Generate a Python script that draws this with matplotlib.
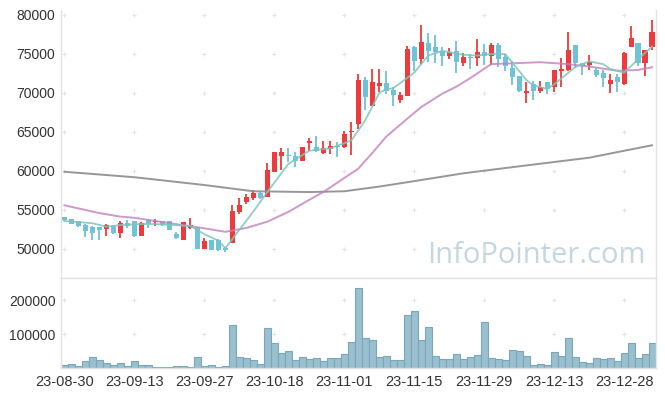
import numpy as np
import matplotlib.pyplot as plt

dates = ['23-08-30', '23-08-31', '23-09-01', '23-09-04', '23-09-05', '23-09-06', '23-09-07', '23-09-08', '23-09-11', '23-09-12',
         '23-09-13', '23-09-14', '23-09-15', '23-09-18', '23-09-19', '23-09-20', '23-09-21', '23-09-22', '23-09-25', '23-09-26',
         '23-09-27', '23-10-04', '23-10-05', '23-10-06', '23-10-10', '23-10-11', '23-10-12', '23-10-13', '23-10-16', '23-10-17',
         '23-10-18', '23-10-19', '23-10-20', '23-10-23', '23-10-24', '23-10-25', '23-10-26', '23-10-27', '23-10-30', '23-10-31',
         '23-11-01', '23-11-02', '23-11-03', '23-11-06', '23-11-07', '23-11-08', '23-11-09', '23-11-10', '23-11-13', '23-11-14',
         '23-11-15', '23-11-16', '23-11-17', '23-11-20', '23-11-21', '23-11-22', '23-11-23', '23-11-24', '23-11-27', '23-11-28',
         '23-11-29', '23-11-30', '23-12-01', '23-12-04', '23-12-05', '23-12-06', '23-12-07', '23-12-08', '23-12-11', '23-12-12',
         '23-12-13', '23-12-14', '23-12-15', '23-12-18', '23-12-19', '23-12-20', '23-12-21', '23-12-22', '23-12-26', '23-12-27',
         '23-12-28', '24-01-02', '24-01-03', '24-01-04', '24-01-05']

opens = [54050, 53800, 53530, 53020, 52800, 52760, 52540, 52890, 52030, 53320,
         53530, 51720, 53660, 53400, 53580, 53530, 51980, 51210, 52670, 52670,
         49960, 51160, 51160, 50090, 50730, 54700, 55990, 56550, 57200, 56620,
         59830, 61960, 61960, 61960, 61230, 63540, 63110, 62260, 62770, 63200,
         63030, 64950, 66020, 71650, 68280, 70930, 71230, 70420, 69130, 69560,
         75840, 74300, 76450, 75900, 75400, 74700, 75400, 73900, 74650, 74500,
         75300, 74800, 76200, 74650, 73200, 72200, 70050, 71200, 70200, 71400,
         70800, 72850, 72950, 76100, 73850, 73600, 72950, 72500, 71100, 72050,
         71100, 75850, 76400, 73900, 75850]
closes = [53700, 53230, 52930, 52280, 52030, 52460, 53020, 52070, 53320, 52890,
          51720, 53320, 53230, 53580, 53020, 52410, 51470, 53400, 53020, 50040,
          51080, 49910, 49870, 49910, 54830, 55600, 56640, 57200, 56550, 60170,
          62470, 62470, 61880, 61230, 63110, 63880, 62520, 62900, 63240, 63030,
          64740, 65160, 71650, 69430, 71440, 71230, 70290, 69730, 69780, 75620,
          74040, 76500, 75400, 75300, 74700, 75200, 74000, 74600, 74550, 75300,
          74800, 76200, 74400, 73400, 72100, 70250, 70250, 70200, 70800, 70500,
          72900, 73050, 75550, 73900, 73400, 74000, 72350, 71900, 71700, 71350,
          75100, 77050, 73900, 75550, 77800]
highs = [54100, 53880, 53600, 53230, 52900, 52800, 53150, 53060, 53580, 53660,
         53620, 53490, 53750, 53790, 53580, 53580, 52160, 53490, 54000, 52840,
         51420, 51160, 51290, 50210, 55690, 56550, 57020, 57540, 57300, 61020,
         62470, 62940, 62940, 62390, 63110, 64180, 64490, 63880, 63880, 63670,
         65160, 66320, 72420, 71990, 73060, 73060, 72760, 70710, 70070, 76030,
         76030, 78700, 77700, 77400, 75900, 75800, 76700, 75100, 75000, 76900,
         76300, 76400, 76400, 75000, 74100, 72200, 71350, 71550, 71550, 71400,
         72900, 74500, 77800, 76100, 73900, 74900, 73250, 72950, 72400, 72400,
         75200, 78550, 76400, 75550, 79300]
lows = [53600, 53150, 52850, 51600, 51160, 51200, 51680, 51940, 51420, 52720,
        51600, 51720, 52630, 52890, 52890, 52410, 51340, 51160, 52540, 50040,
        49960, 49910, 49780, 49570, 50730, 54530, 55810, 56340, 56400, 56620,
        59830, 60170, 61150, 60470, 61230, 62560, 62470, 62170, 62170, 61750,
        62940, 62050, 65380, 67810, 68280, 70070, 69860, 68320, 68700, 69560,
        72880, 73760, 74000, 73800, 73500, 74400, 72600, 73500, 73100, 73400,
        73600, 73600, 73300, 72800, 71000, 70150, 68750, 69150, 70050, 69850,
        70150, 70800, 72850, 73250, 72350, 72950, 72000, 70800, 69950, 70150,
        71000, 75850, 73500, 72150, 75500]
volumes = [9, 13, 6, 21, 32, 24, 15, 9, 15, 6, 21, 9, 9, 3, 3, 3, 6, 6, 3, 32,
           6, 9, 3, 6, 127, 32, 29, 24, 12, 118, 74, 44, 50, 24, 32, 27, 29, 21, 29, 29,
           41, 76, 236, 88, 82, 32, 35, 24, 24, 156, 168, 82, 120, 35, 27, 27, 41, 27, 32, 38,
           135, 29, 27, 24, 53, 50, 35, 9, 12, 9, 47, 35, 88, 32, 18, 15, 29, 27, 29, 21,
           44, 74, 29, 41, 74]
volumes = [v * 1000 for v in volumes]

# moving average lines
ma_short_x = [0, 4, 6, 8, 11, 13, 16, 18, 20, 22, 23, 27, 29, 32, 35, 38, 41, 43, 45, 46, 47, 50, 52, 54, 57,
              59, 61, 63, 64, 66, 67, 69, 70, 73, 75, 77, 78, 80, 82, 84]
ma_short = [53590, 53300, 52860, 53080, 53200, 53200, 53050, 52950, 51900, 51060, 50090, 54800, 57300, 60900,
            62600, 62900, 63900, 66500, 70000, 70500, 70600, 72600, 74800, 75400, 74900, 74800, 75000, 75000,
            73950, 71700, 71000, 70520, 71100, 73300, 74060, 73700, 73100, 72600, 74300, 75950]
ma_mid_x = [0, 5, 8, 10, 14, 17, 20, 23, 26, 29, 32, 35, 37, 40, 42, 44, 46, 49, 51, 54, 56, 58, 61, 64, 68,
            72, 75, 79, 82, 84]
ma_mid = [55600, 54600, 54150, 54000, 53450, 53050, 52650, 52200, 52700, 53500, 54750, 56300, 57300, 59100,
          60300, 62300, 64400, 66700, 68200, 69900, 70800, 71900, 73700, 73800, 73950, 73700, 73400, 72850,
          72950, 73300]
ma_long_x = [0, 10, 20, 27, 35, 40, 45, 50, 57, 65, 75, 84]
ma_long = [59900, 59200, 58200, 57400, 57300, 57400, 58000, 58700, 59700, 60600, 61700, 63300]

price_ticks = [50000, 55000, 60000, 65000, 70000, 75000, 80000]
vol_ticks = [100000, 200000]
label_idx = list(range(0, 81, 10))

up_color = '#ef3a3d'
down_color = '#6ec3d8'
grid_color = '#e4e4e4'
text_color = '#333333'

plt.rcParams['font.family'] = ['Liberation Sans', 'DejaVu Sans']

fig = plt.figure(figsize=(6.65, 3.96), dpi=100)
ax = fig.add_axes([61/665, 1 - 278/396, 594.5/665, 268/396])
axv = fig.add_axes([61/665, 1 - 368/396, 594.5/665, 90/396])

x = np.arange(len(dates))
colors = [up_color if c >= o else down_color for o, c in zip(opens, closes)]
body_bottom = [min(o, c) for o, c in zip(opens, closes)]
body_height = [max(abs(c - o), 120) for o, c in zip(opens, closes)]

ax.vlines(x, lows, highs, colors=colors, linewidth=1.3, zorder=2)
ax.bar(x, body_height, bottom=body_bottom, width=0.72, color=colors, linewidth=0, zorder=3)

ax.plot(ma_long_x, ma_long, color='#8c8c8c', linewidth=1.4, alpha=0.9, zorder=4)
ax.plot(ma_mid_x, ma_mid, color='#c37fbf', linewidth=1.4, alpha=0.8, zorder=4)
ax.plot(ma_short_x, ma_short, color='#7cc6bd', linewidth=1.3, alpha=0.85, zorder=4)

gx, gy = np.meshgrid(label_idx, price_ticks)
ax.scatter(gx.ravel(), gy.ravel(), marker='+', s=10, color=grid_color, linewidths=0.8, zorder=1)

ax.text(0.983, 0.085, 'InfoPointer.com', transform=ax.transAxes, ha='right', va='center',
        fontsize=21, color='#c4d6e1', family=['Open Sans', 'DejaVu Sans'], zorder=0)

ax.set_xlim(-0.5, 84.5)
ax.set_ylim(46280, 80640)
ax.set_yticks(price_ticks)
ax.set_yticklabels([str(t) for t in price_ticks])
ax.set_xticks([])

axv.bar(x, volumes, width=1.0, color='#9ac0d0', edgecolor='#79a6ba', linewidth=0.8, zorder=2)
gx, gy = np.meshgrid(label_idx, vol_ticks)
axv.scatter(gx.ravel(), gy.ravel(), marker='+', s=10, color=grid_color, linewidths=0.8, zorder=1)
axv.set_xlim(-0.5, 84.5)
axv.set_ylim(0, 265000)
axv.set_yticks(vol_ticks)
axv.set_yticklabels([str(t) for t in vol_ticks])
axv.set_xticks(label_idx)
axv.set_xticklabels([dates[i] for i in label_idx])

for a in (ax, axv):
    for s in a.spines.values():
        s.set_color('#e3e3e3')
        s.set_linewidth(1.0)
    a.spines['top'].set_visible(False)
    a.tick_params(length=0, labelsize=10, colors=text_color, pad=4)
ax.spines['bottom'].set_visible(True)
axv.spines['top'].set_visible(True)
axv.tick_params(axis='x', labelsize=10.5, pad=5)

fig.savefig('out.png', dpi=100)
